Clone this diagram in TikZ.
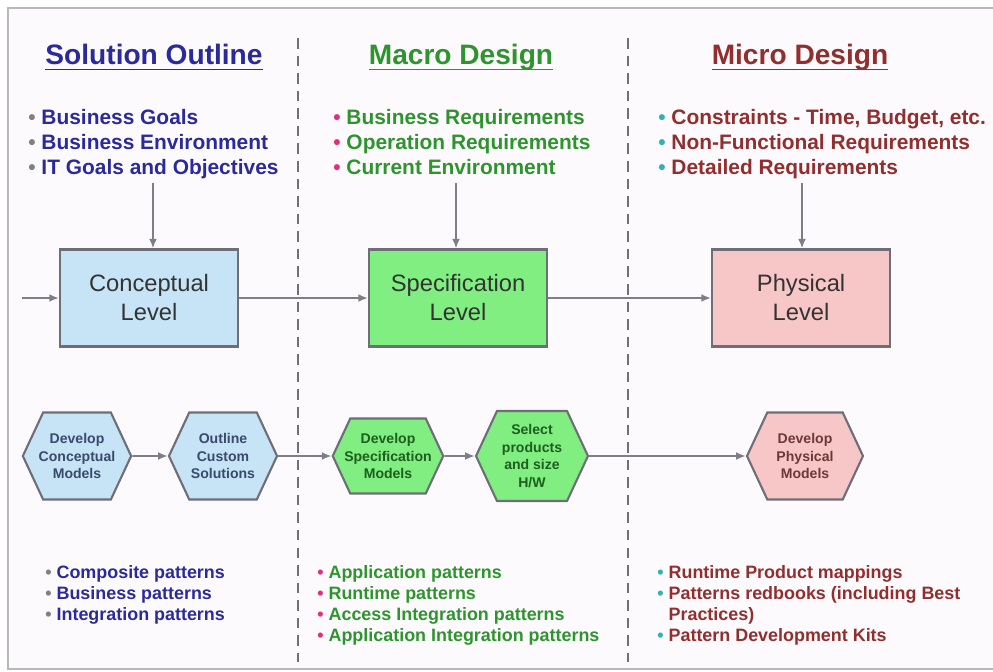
\documentclass[tikz,border=0pt]{standalone}
\usepackage{fontspec}
\setmainfont{Liberation Sans}
\usetikzlibrary{arrows.meta,positioning,shapes.symbols}
\definecolor{pagetint}{HTML}{FCFAFC}
\definecolor{framegray}{HTML}{B8B8B8}
\definecolor{dashgray}{HTML}{707070}
\definecolor{linegray}{HTML}{7E7E88}
\definecolor{boxline}{HTML}{6E6E78}
\definecolor{soltext}{HTML}{2A2A9C}
\definecolor{mactext}{HTML}{2E952E}
\definecolor{mictext}{HTML}{922E2E}
\definecolor{solbullet}{HTML}{808080}
\definecolor{macbullet}{HTML}{E0307A}
\definecolor{micbullet}{HTML}{30B0B8}
\definecolor{solfill}{HTML}{C6E4F6}
\definecolor{macfill}{HTML}{80EE80}
\definecolor{micfill}{HTML}{F7C6C6}
\definecolor{solhex}{HTML}{3A4A6A}
\definecolor{machex}{HTML}{1E5E1E}
\definecolor{michex}{HTML}{6E3838}
\newcommand{\itm}[1]{{\color{#1}\textbullet}\ }
\newcommand{\headline}[1]{\setbox0\hbox{#1}\rlap{\vrule height -2pt depth 3pt width \wd0}\box0}

\begin{document}
\begin{tikzpicture}[
  x=0.02cm, y=-0.02cm,
  >={Latex[length=5.5pt,width=4.5pt]},
  heading/.style={anchor=base, inner sep=0pt, font=\fontsize{16}{19}\selectfont\bfseries},
  toplist/.style={anchor=north west, align=left, inner sep=0pt, font=\fontsize{11.9}{14.2}\selectfont\bfseries},
  botlist/.style={anchor=north west, align=left, inner sep=0pt, font=\fontsize{10.2}{11.9}\selectfont\bfseries},
  level/.style={rectangle, draw=boxline, line width=1.2pt, minimum width=3.56cm, minimum height=1.94cm, align=center, text=black!80, font=\fontsize{13.5}{16.5}\selectfont},
  hexa/.style={signal, signal to=east and west, signal pointer angle=130, draw=boxline, line width=1.2pt, inner sep=1pt, minimum width=2.16cm, minimum height=1.74cm, align=center, font=\fontsize{8}{10}\selectfont\bfseries},
  flow/.style={->, draw=linegray, line width=1.1pt},
  divider/.style={draw=dashgray, line width=0.9pt, dash pattern=on 6pt off 4pt}
]
  \useasboundingbox (0,0) rectangle (993,672);
  \fill[pagetint] (8,8) rectangle (999,669);
  \draw[framegray, line width=1.1pt] (8,8) rectangle (999,669);

  % column dividers
  \draw[divider] (298,38) -- (298,662);
  \draw[divider] (628,38) -- (628,662);

  % headings
  \node[heading, text=soltext] (solhead) at (154,65) {\headline{Solution Outline}};
  \node[heading, text=mactext] (machead) at (461,65) {\headline{Macro Design}};
  \node[heading, text=mictext] (michead) at (800,65) {\headline{Micro Design}};

  % inputs
  \node[toplist, text=soltext] (solin) at (28,109) {\itm{solbullet}Business Goals\\\itm{solbullet}Business Environment\\\itm{solbullet}IT Goals and Objectives};
  \node[toplist, text=mactext] (macin) at (333,109) {\itm{macbullet}Business Requirements\\\itm{macbullet}Operation Requirements\\\itm{macbullet}Current Environment};
  \node[toplist, text=mictext] (micin) at (658,109) {\itm{micbullet}Constraints - Time, Budget, etc.\\\itm{micbullet}Non-Functional Requirements\\\itm{micbullet}Detailed Requirements};

  % levels
  \node[level, fill=solfill] (concept) at (149,298) {Conceptual\\Level};
  \node[level, fill=macfill, right=2.58cm of concept] (spec) {Specification\\Level};
  \node[level, fill=micfill, right=3.26cm of spec] (phys) {Physical\\Level};

  \coordinate (entry) at (22,298);
  \coordinate (solfeed) at (153,183);
  \coordinate (macfeed) at (456,183);
  \coordinate (micfeed) at (802,183);

  \draw[flow] (entry) -- (concept);
  \draw[flow] (concept) -- (spec);
  \draw[flow] (spec) -- (phys);
  \draw[flow] (solfeed) -- (solfeed |- concept.north);
  \draw[flow] (macfeed) -- (macfeed |- spec.north);
  \draw[flow] (micfeed) -- (micfeed |- phys.north);

  % activities
  \node[hexa, fill=solfill, text=solhex, inner xsep=-2.5pt] (h1) at (77,456) {Develop\\Conceptual\\Models};
  \node[hexa, fill=solfill, text=solhex] (h2) at (223,456) {Outline\\Custom\\Solutions};
  \node[hexa, fill=macfill, text=machex, inner xsep=-3.4pt, minimum height=1.5cm] (h3) at (388,456) {Develop\\Specification\\Models};
  \node[hexa, fill=macfill, text=machex, minimum width=2.24cm, minimum height=1.8cm] (h4) at (532,456) {Select\\products\\and size\\H/W};
  \node[hexa, fill=micfill, text=michex, minimum width=2.32cm] (h5) at (805,456) {Develop\\Physical\\Models};

  \draw[flow] (h1) -- (h2);
  \draw[flow] (h2) -- (h3);
  \draw[flow] (h3) -- (h4);
  \draw[flow] (h4) -- (h5);

  % outputs
  \node[botlist, text=soltext] (solout) at (45,565) {\itm{solbullet}Composite patterns\\\itm{solbullet}Business patterns\\\itm{solbullet}Integration patterns};
  \node[botlist, text=mactext] (macout) at (317,565) {\itm{macbullet}Application patterns\\\itm{macbullet}Runtime patterns\\\itm{macbullet}Access Integration patterns\\\itm{macbullet}Application Integration patterns};
  \node[botlist, text=mictext] (micout) at (657,565) {\itm{micbullet}Runtime Product mappings\\\itm{micbullet}Patterns redbooks (including Best\\\phantom{\itm{micbullet}}Practices)\\\itm{micbullet}Pattern Development Kits};
\end{tikzpicture}
\end{document}
